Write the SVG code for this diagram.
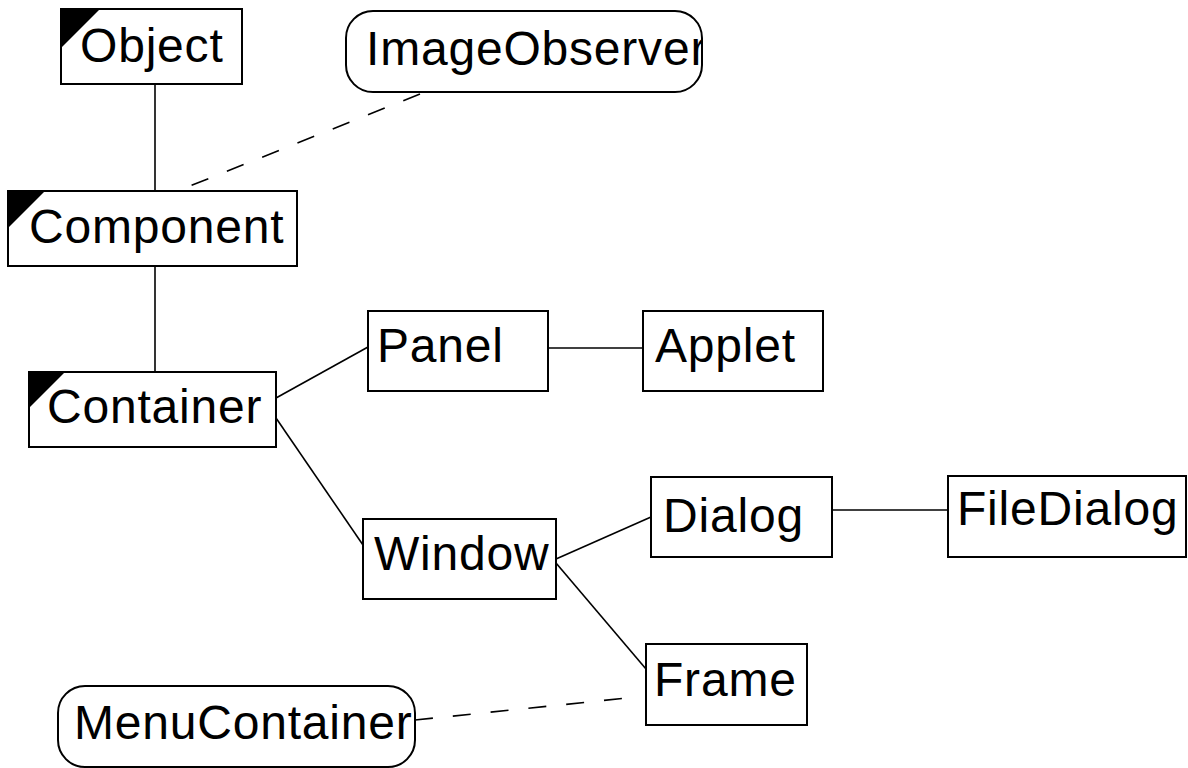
<svg xmlns="http://www.w3.org/2000/svg" width="1188" height="768" viewBox="0 0 1188 768">
<style>
.box{fill:#fff;stroke:#000;stroke-width:2}
.tri{fill:#000}
.lbl{font-family:"Liberation Sans",Arial,Helvetica,sans-serif;font-size:48px;letter-spacing:0.8px;fill:#000}
.ln{stroke:#000;stroke-width:1.6;fill:none}
.dash{stroke:#000;stroke-width:1.6;fill:none;stroke-dasharray:18 20}
</style>
<defs>
<clipPath id="clipIO"><rect x="346" y="12" width="355" height="79"/></clipPath>
<clipPath id="clipMC"><rect x="59" y="687" width="355" height="79"/></clipPath>
</defs>
<rect width="1188" height="768" fill="#fff"/>
<g id="connectors">
<line class="ln" x1="155" y1="84" x2="155" y2="191"/>
<line class="ln" x1="155" y1="266" x2="155" y2="372"/>
<line class="dash" x1="420" y1="94" x2="185" y2="188"/>
<line class="ln" x1="276" y1="398" x2="368" y2="347"/>
<line class="ln" x1="276" y1="418" x2="363" y2="545"/>
<line class="ln" x1="548" y1="348" x2="643" y2="348"/>
<line class="ln" x1="556" y1="559" x2="651" y2="517"/>
<line class="ln" x1="556" y1="563" x2="646" y2="669"/>
<line class="ln" x1="832" y1="510" x2="948" y2="510"/>
<line class="dash" x1="415" y1="720" x2="637" y2="697"/>
</g>
<g id="Object">
<rect class="box" x="61" y="9" width="181" height="75"/>
<polygon class="tri" points="61,9 100,9 61,48"/>
<text class="lbl" x="80" y="62">Object</text>
</g>
<g id="ImageObserver">
<rect class="box" x="346" y="11" width="356" height="81" rx="27" ry="27"/>
<text class="lbl" x="366" y="65" clip-path="url(#clipIO)">ImageObserver</text>
</g>
<g id="Component">
<rect class="box" x="8" y="191" width="289" height="75"/>
<polygon class="tri" points="8,191 45,191 8,228"/>
<text class="lbl" x="29" y="243">Component</text>
</g>
<g id="Container">
<rect class="box" x="29" y="372" width="247" height="75"/>
<polygon class="tri" points="29,372 65,372 29,408"/>
<text class="lbl" x="47" y="423">Container</text>
</g>
<g id="Panel">
<rect class="box" x="368" y="311" width="180" height="80"/>
<text class="lbl" x="377" y="362">Panel</text>
</g>
<g id="Applet">
<rect class="box" x="643" y="311" width="180" height="80"/>
<text class="lbl" x="655" y="362">Applet</text>
</g>
<g id="Window">
<rect class="box" x="363" y="519" width="193" height="80"/>
<text class="lbl" x="374" y="570">Window</text>
</g>
<g id="Dialog">
<rect class="box" x="651" y="477" width="181" height="80"/>
<text class="lbl" x="663" y="532">Dialog</text>
</g>
<g id="FileDialog">
<rect class="box" x="948" y="476" width="238" height="81"/>
<text class="lbl" x="957" y="525">FileDialog</text>
</g>
<g id="Frame">
<rect class="box" x="646" y="644" width="161" height="81"/>
<text class="lbl" x="654" y="696">Frame</text>
</g>
<g id="MenuContainer">
<rect class="box" x="58" y="686" width="357" height="81" rx="27" ry="27"/>
<text class="lbl" x="74" y="739" clip-path="url(#clipMC)">MenuContainer</text>
</g>
</svg>
